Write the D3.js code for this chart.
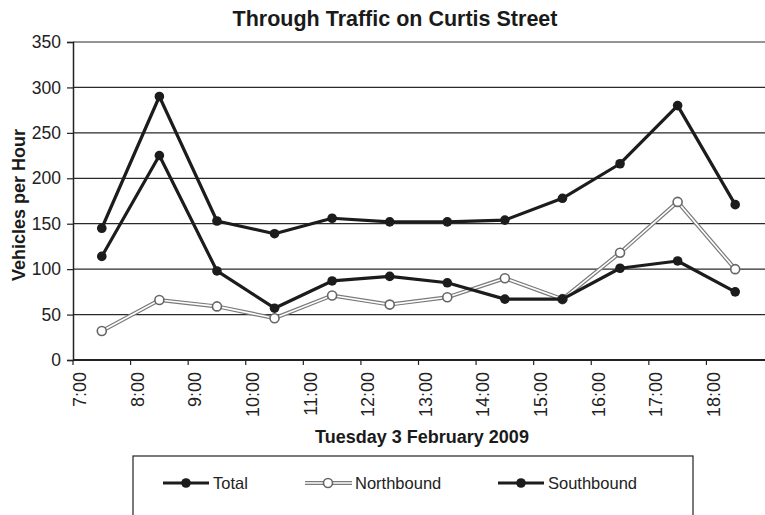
<!DOCTYPE html>
<html>
<head>
<meta charset="utf-8">
<script src="https://cdn.jsdelivr.net/npm/d3@7"></script>
<style>
  html, body { margin: 0; padding: 0; background: #fff; }
  svg { display: block; font-family: "Liberation Sans", Arial, sans-serif; }
</style>
</head>
<body>
<svg id="chart" width="765" height="515"></svg>
<script>
// ---- Data ----
const hourLabels = ["7:00","8:00","9:00","10:00","11:00","12:00","13:00","14:00","15:00","16:00","17:00","18:00"];
const total      = [145, 290, 153, 139, 156, 152, 152, 154, 178, 216, 280, 171];
const northbound = [ 32,  66,  59,  46,  71,  61,  69,  90,  67, 118, 174, 100];
const southbound = [114, 225,  98,  57,  87,  92,  85,  67,  67, 101, 109,  75];
const yTicks     = [0, 50, 100, 150, 200, 250, 300, 350];
const seriesNames = ["Total", "Northbound", "Southbound"];

const svg = d3.select("#chart");
const margin = { left: 73, right: 1, top: 42, bottom: 155 };
const W = 765, H = 515;

const x = d3.scaleBand().domain(hourLabels).range([margin.left, W - margin.right]).paddingInner(0).paddingOuter(0);
const y = d3.scaleLinear().domain([0, 350]).range([H - margin.bottom, margin.top]);

// gridlines
svg.append("g").selectAll("line").data(yTicks.filter(d => d > 0)).join("line")
  .attr("x1", margin.left).attr("x2", W)
  .attr("y1", d => y(d)).attr("y2", d => y(d))
  .attr("stroke", "#2a2a2a").attr("stroke-width", 1.2);

// y axis
const yAxis = d3.axisLeft(y).tickValues(yTicks).tickSize(6).tickPadding(6);
const gy = svg.append("g").attr("transform", `translate(${margin.left},0)`).call(yAxis);
gy.select(".domain").attr("stroke", "#222").attr("stroke-width", 1.5);
gy.selectAll(".tick line").attr("stroke", "#222").attr("stroke-width", 1.2);
gy.selectAll(".tick text").attr("font-size", 17.5).attr("fill", "#222")
  .attr("font-family", "Liberation Sans, Arial, sans-serif");

// x axis: ticks at band starts
const xTick = d3.scaleOrdinal().domain(hourLabels).range(hourLabels.map(h => x(h)));
const gx = svg.append("g").attr("transform", `translate(0,${y(0)})`);
gx.append("line").attr("x1", margin.left).attr("x2", W).attr("y1", 0).attr("y2", 0)
  .attr("stroke", "#222").attr("stroke-width", 1.8);
const ticks = gx.selectAll("g.tick").data(hourLabels).join("g").attr("class", "tick")
  .attr("transform", d => `translate(${x(d)},0)`);
ticks.append("line").attr("y1", 0).attr("y2", 5).attr("stroke", "#222").attr("stroke-width", 1.2);
ticks.append("text")
  .attr("transform", "translate(7,12) rotate(-90)")
  .attr("text-anchor", "end").attr("dy", "0.35em")
  .attr("font-size", 18).attr("fill", "#222")
  .text(d => d);

// lines
const cx = (d, i) => x(hourLabels[i]) + x.bandwidth() / 2;
const line = d3.line().x(cx).y(d => y(d));

function drawSolid(values) {
  svg.append("path").datum(values).attr("d", line)
    .attr("fill", "none").attr("stroke", "#1c1c1c").attr("stroke-width", 3.2)
    .attr("stroke-linejoin", "round");
  svg.append("g").selectAll("circle").data(values).join("circle")
    .attr("cx", cx).attr("cy", d => y(d)).attr("r", 4.8).attr("fill", "#1c1c1c");
}
function drawHollow(values) {
  svg.append("path").datum(values).attr("d", line)
    .attr("fill", "none").attr("stroke", "#7a7a7a").attr("stroke-width", 4);
  svg.append("path").datum(values).attr("d", line)
    .attr("fill", "none").attr("stroke", "#fff").attr("stroke-width", 1.6);
  svg.append("g").selectAll("circle").data(values).join("circle")
    .attr("cx", cx).attr("cy", d => y(d)).attr("r", 4.5)
    .attr("fill", "#fff").attr("stroke", "#666").attr("stroke-width", 1.6);
}
drawHollow(northbound);
drawSolid(southbound);
drawSolid(total);

// title
svg.append("text").attr("x", 395).attr("y", 26).attr("text-anchor", "middle")
  .attr("font-size", 21.5).attr("font-weight", "bold").attr("fill", "#1a1a1a")
  .text("Through Traffic on Curtis Street");

// axis titles
svg.append("text").attr("transform", "translate(25,205) rotate(-90)")
  .attr("text-anchor", "middle").attr("font-size", 18).attr("font-weight", "bold").attr("fill", "#1a1a1a")
  .text("Vehicles per Hour");
svg.append("text").attr("x", 422).attr("y", 443).attr("text-anchor", "middle")
  .attr("font-size", 18).attr("font-weight", "bold").attr("fill", "#1a1a1a")
  .text("Tuesday 3 February 2009");

// legend
svg.append("rect").attr("x", 133).attr("y", 456).attr("width", 560).attr("height", 80)
  .attr("fill", "none").attr("stroke", "#222").attr("stroke-width", 1.2);
const legendX = [163, 305, 498];
const legendY = 483;
seriesNames.forEach((name, i) => {
  const g = svg.append("g").attr("transform", `translate(${legendX[i]},${legendY})`);
  if (name === "Northbound") {
    g.append("line").attr("x1", 0).attr("x2", 47).attr("stroke", "#7a7a7a").attr("stroke-width", 4);
    g.append("line").attr("x1", 0).attr("x2", 47).attr("stroke", "#fff").attr("stroke-width", 1.6);
    g.append("circle").attr("cx", 23).attr("r", 4.5).attr("fill", "#fff").attr("stroke", "#666").attr("stroke-width", 1.6);
  } else {
    g.append("line").attr("x1", 0).attr("x2", 46).attr("stroke", "#1c1c1c").attr("stroke-width", 3.2);
    g.append("circle").attr("cx", 23).attr("r", 4.8).attr("fill", "#1c1c1c");
  }
  g.append("text").attr("x", 50).attr("y", 6).attr("font-size", 16.5).attr("fill", "#222").text(name);
});
</script>
</body>
</html>
